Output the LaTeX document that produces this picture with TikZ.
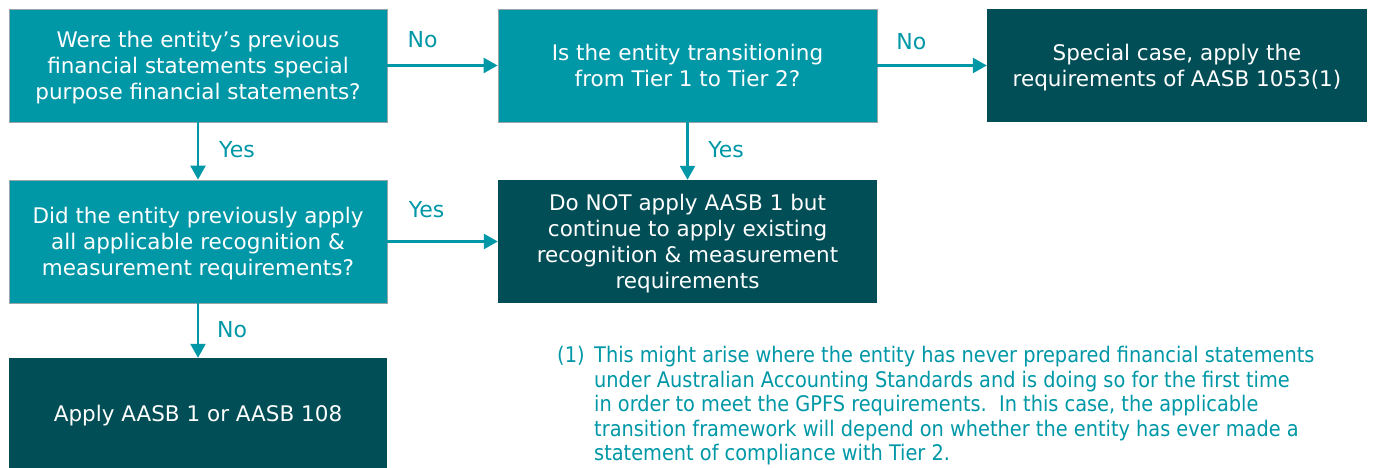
\documentclass[tikz,border=0pt]{standalone}
\usepackage{fontspec}
\setmainfont{DejaVu Sans}
\newfontfamily\notefont{DejaVu Sans Condensed}
\usetikzlibrary{arrows.meta}
\definecolor{lteal}{HTML}{0097A7}
\definecolor{dteal}{HTML}{024E57}
\definecolor{edgegray}{HTML}{9AA5A8}
\tikzset{
  box/.style={rectangle, minimum width=378pt, text=white, align=center, inner sep=0pt,
    text depth=-10pt, font=\fontsize{21.5}{26}\selectfont},
  qbox/.style={box, fill=lteal, draw=edgegray, line width=0.8pt},
  abox/.style={box, fill=dteal},
  conn/.style={draw=lteal, line width=2.4pt, -{Triangle[length=14pt,width=15pt]}},
  lbl/.style={text=lteal, font=\fontsize{22}{24}\selectfont, inner sep=0pt},
  note/.style={text=lteal, anchor=north west, inner sep=0pt, font=\notefont\fontsize{21.5}{24.5}\selectfont},
}
\begin{document}
\begin{tikzpicture}[x=1pt,y=1pt]
\useasboundingbox (0,0) rectangle (1380,-468);
\node[qbox, minimum height=113pt] (A) at (198,-65.5) {Were the entity’s previous\\financial statements special\\purpose financial statements?};
\node[qbox, minimum height=113pt, minimum width=379pt] (B) at (687.5,-65.5) {Is the entity transitioning\\from Tier 1 to Tier 2?};
\node[abox, minimum height=113pt, minimum width=380pt] (C) at (1177,-65.5) {Special case, apply the\\requirements of AASB 1053(1)};
\node[qbox, minimum height=123pt] (D) at (198,-241.5) {Did the entity previously apply\\all applicable recognition \&\\measurement requirements?};
\node[abox, minimum height=123pt, minimum width=379pt] (E) at (687.5,-241.5) {Do NOT apply AASB 1 but\\continue to apply existing\\recognition \& measurement\\requirements};
\node[abox, minimum height=110pt] (F) at (198,-413) {Apply AASB 1 or AASB 108};

\draw[conn] (A) -- node[lbl, pos=0.32, yshift=26pt] (nA) {No} (B);
\draw[conn] (B) -- node[lbl, pos=0.31, yshift=23.5pt] (nB) {No} (C);
\draw[conn] (A) -- node[lbl, pos=0.47, xshift=39pt] (yA) {Yes} (D);
\draw[conn] (B) -- node[lbl, pos=0.47, xshift=38.5pt] (yB) {Yes} (E);
\draw[conn] (D) -- node[lbl, pos=0.355, yshift=31.5pt] (yD) {Yes} (E);
\draw[conn] (D) -- node[lbl, pos=0.49, xshift=34pt] (nD) {No} (F);

\node[note] (fn1) at (557,-346) {(1)};
\node[note, align=left] (fn) at (594,-346) {This might arise where the entity has never prepared financial statements\\under Australian Accounting Standards and is doing so for the first time\\in order to meet the GPFS requirements.\ \ In this case, the applicable\\transition framework will depend on whether the entity has ever made a\\statement of compliance with Tier 2.};
\end{tikzpicture}
\end{document}
